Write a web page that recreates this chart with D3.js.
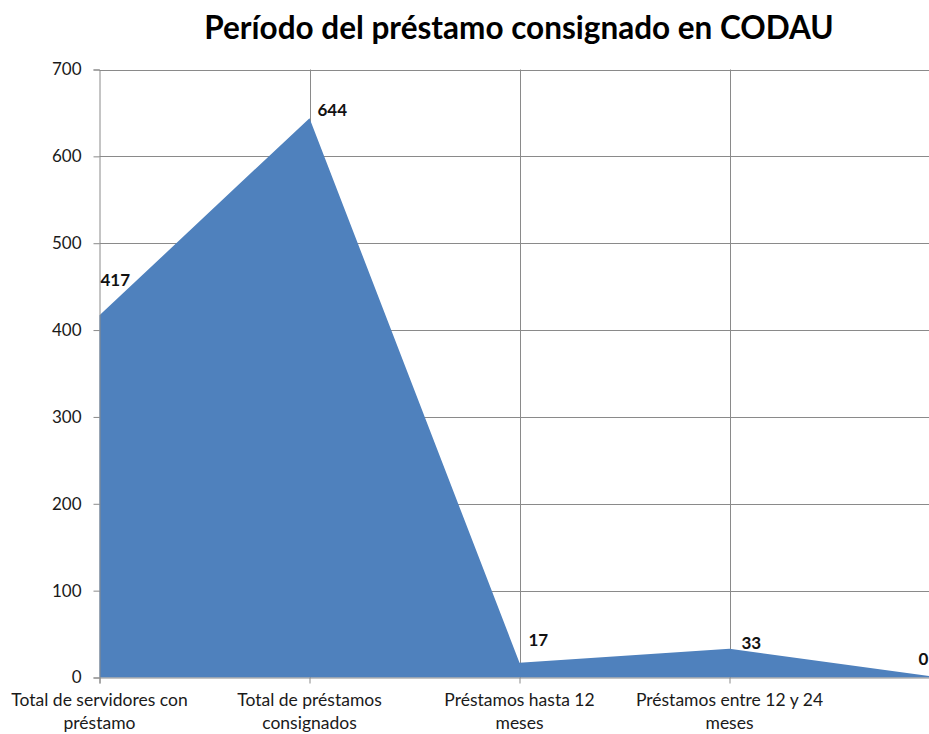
<!DOCTYPE html>
<html>
<head>
<meta charset="utf-8">
<script src="https://cdn.jsdelivr.net/npm/d3@7"></script>
<style>
html,body{margin:0;padding:0;background:#fff;}
svg{display:block;}
</style>
</head>
<body>
<svg id="chart" width="929" height="734"></svg>
<script>
const title = "Período del préstamo consignado en CODAU";
const categories = [
  ["Total de servidores con", "préstamo"],
  ["Total de préstamos", "consignados"],
  ["Préstamos hasta 12", "meses"],
  ["Préstamos entre 12 y 24", "meses"],
  [""]
];
const values = [417, 644, 17, 33, 0];
const yTicks = [0, 100, 200, 300, 400, 500, 600, 700];

(function () {
const svg = d3.select("#chart");
const pLeft = 99.5, pRight = 939.5, pTop = 69.5, pBottom = 677.5;
const font = "Lato, 'Open Sans', sans-serif";

const x = d3.scalePoint().domain(d3.range(categories.length)).range([pLeft, pRight]);
const y = d3.scaleLinear().domain([0, 700]).range([pBottom, pTop]);

// gridlines
const grid = svg.append("g");
grid.selectAll("line.h").data(yTicks.filter(d => d > 0)).join("line")
  .attr("x1", pLeft).attr("x2", pRight)
  .attr("y1", d => Math.round(y(d)) + 0.5).attr("y2", d => Math.round(y(d)) + 0.5)
  .attr("stroke", "#8a8a8a").attr("stroke-width", 1);
grid.selectAll("line.v").data(d3.range(1, categories.length)).join("line")
  .attr("x1", d => Math.round(x(d)) + 0.5).attr("x2", d => Math.round(x(d)) + 0.5)
  .attr("y1", pTop).attr("y2", pBottom)
  .attr("stroke", "#8a8a8a").attr("stroke-width", 1);

// area
const area = d3.area()
  .x((d, i) => x(i))
  .y0(y(0))
  .y1(d => y(d));
svg.append("path").datum(values)
  .attr("d", area)
  .attr("fill", "#4F81BD");

// y axis
const yAxis = d3.axisLeft(y).tickValues(yTicks).tickSize(6).tickPadding(12).tickFormat(d3.format("d"));
const gy = svg.append("g").attr("transform", `translate(${pLeft},0)`).call(yAxis);
gy.select(".domain").attr("stroke", "#8a8a8a");
gy.selectAll(".tick line").attr("stroke", "#8a8a8a");
gy.selectAll(".tick text").attr("font-family", font).attr("font-size", 17).attr("fill", "#1a1a1a");

// x axis
const xAxis = d3.axisBottom(x).tickSize(6).tickFormat("");
const gx = svg.append("g").attr("transform", `translate(0,${pBottom})`).call(xAxis);
gx.select(".domain").attr("stroke", "#8a8a8a");
gx.selectAll(".tick line").attr("stroke", "#8a8a8a");

// category labels
const cat = svg.append("g");
categories.forEach((lines, i) => {
  const t = cat.append("text")
    .attr("text-anchor", "middle")
    .attr("font-family", font).attr("font-size", 17.5).attr("fill", "#1a1a1a");
  lines.forEach((ln, j) => {
    t.append("tspan").attr("x", x(i)).attr("y", 706 + j * 23).text(ln);
  });
});

// data labels (offsets relative to each point)
const labelOffsets = [[1, -29], [8, -2], [9, -17], [12, 0], [-21, -13]];
svg.append("g").selectAll("text").data(values).join("text")
  .attr("x", (d, i) => x(i) + labelOffsets[i][0])
  .attr("y", (d, i) => y(d) + labelOffsets[i][1])
  .attr("font-family", font).attr("font-size", 17).attr("font-weight", "bold")
  .attr("fill", "#111")
  .text(d => d);

// title
svg.append("text")
  .attr("x", 519).attr("y", 39)
  .attr("text-anchor", "middle")
  .attr("font-family", font).attr("font-size", 31.5).attr("font-weight", "bold")
  .attr("fill", "#000")
  .text(title);
})();
</script>
</body>
</html>
